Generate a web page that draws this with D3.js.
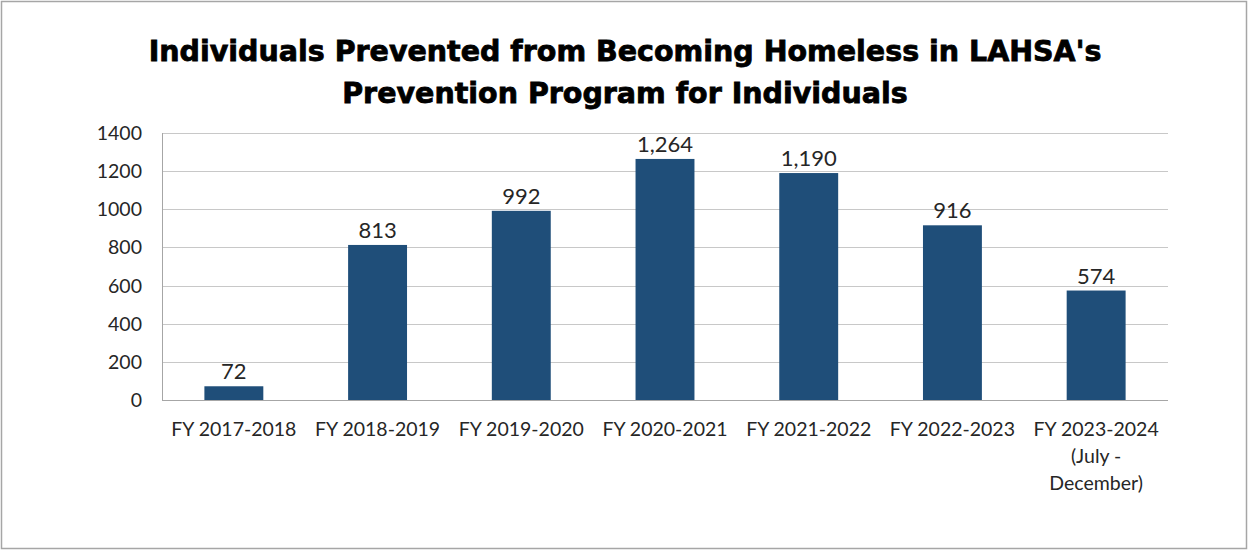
<!DOCTYPE html>
<html>
<head>
<meta charset="utf-8">
<script src="https://cdn.jsdelivr.net/npm/d3@7"></script>
<style>
  html, body { margin: 0; padding: 0; background: #fff; }
  #chart { width: 1248px; height: 550px; }
</style>
</head>
<body>
<div id="chart"></div>
<script>
// data
const categories = [
  ["FY 2017-2018"],
  ["FY 2018-2019"],
  ["FY 2019-2020"],
  ["FY 2020-2021"],
  ["FY 2021-2022"],
  ["FY 2022-2023"],
  ["FY 2023-2024", "(July -", "December)"]
];
const values = [72, 813, 992, 1264, 1190, 916, 574];
const yTicks = [0, 200, 400, 600, 800, 1000, 1200, 1400];
const titleLines = [
  "Individuals Prevented from Becoming Homeless in LAHSA's",
  "Prevention Program for Individuals"
];

const width = 1248, height = 550;
const margin = { top: 133, right: 80, bottom: 150, left: 162 };
const labelFont = "Lato, 'Open Sans', sans-serif";

const svg = d3.select("#chart")
  .append("svg")
  .attr("width", width)
  .attr("height", height);

// outer frame
svg.append("rect")
  .attr("x", 1.5).attr("y", 1.5)
  .attr("width", width - 3).attr("height", height - 3)
  .attr("fill", "#fff")
  .attr("stroke", "#a6a6a6")
  .attr("stroke-width", 1.5);

// title (heavy face, a little stroke to get the Arial Black weight)
svg.append("text")
  .attr("text-anchor", "middle")
  .style("font-family", "'Arial Black', 'DejaVu Sans', sans-serif")
  .style("font-weight", "900")
  .style("font-size", "28.5px")
  .style("fill", "#000")
  .style("stroke", "#000")
  .style("stroke-width", "0.8px")
  .selectAll("tspan")
  .data(titleLines)
  .enter()
  .append("tspan")
  .attr("x", 625)
  .attr("y", (d, i) => 61 + i * 42)
  .text((d) => d);

const x = d3.scaleBand()
  .domain(d3.range(categories.length))
  .range([margin.left, width - margin.right])
  .paddingInner(0.59)
  .paddingOuter(0.295);

const y = d3.scaleLinear()
  .domain([0, 1400])
  .range([height - margin.bottom, margin.top]);

// gridlines
svg.append("g")
  .selectAll("line")
  .data(yTicks.filter((t) => t > 0))
  .enter()
  .append("line")
  .attr("x1", margin.left)
  .attr("x2", width - margin.right)
  .attr("y1", (d) => Math.round(y(d)) + 0.5)
  .attr("y2", (d) => Math.round(y(d)) + 0.5)
  .attr("stroke", "#c8c8c8")
  .attr("stroke-width", 1);

// y axis labels
svg.append("g")
  .selectAll("text")
  .data(yTicks)
  .enter()
  .append("text")
  .attr("x", margin.left - 20)
  .attr("y", (d) => y(d))
  .attr("dy", "0.36em")
  .attr("text-anchor", "end")
  .style("font-family", labelFont)
  .style("font-size", "19.5px")
  .style("fill", "#262626")
  .text((d) => d);

// bars
svg.append("g")
  .selectAll("rect")
  .data(values)
  .enter()
  .append("rect")
  .attr("x", (d, i) => x(i))
  .attr("width", x.bandwidth())
  .attr("y", (d) => y(d))
  .attr("height", (d) => y(0) - y(d))
  .attr("fill", "#1f4e79");

// value labels
const fmt = d3.format(",");
svg.append("g")
  .selectAll("text")
  .data(values)
  .enter()
  .append("text")
  .attr("x", (d, i) => x(i) + x.bandwidth() / 2)
  .attr("y", (d) => y(d) - 7)
  .attr("text-anchor", "middle")
  .style("font-family", labelFont)
  .style("font-size", "22px")
  .style("fill", "#262626")
  .text((d) => fmt(d));

// axis lines
svg.append("line")
  .attr("x1", margin.left + 0.5).attr("x2", margin.left + 0.5)
  .attr("y1", margin.top).attr("y2", y(0))
  .attr("stroke", "#a6a6a6");
svg.append("line")
  .attr("x1", margin.left).attr("x2", width - margin.right)
  .attr("y1", Math.round(y(0)) + 0.5).attr("y2", Math.round(y(0)) + 0.5)
  .attr("stroke", "#a6a6a6");

// category labels
const cat = svg.append("g")
  .selectAll("text")
  .data(categories)
  .enter()
  .append("text")
  .attr("text-anchor", "middle")
  .style("font-family", labelFont)
  .style("font-size", "19.5px")
  .style("fill", "#262626");

cat.selectAll("tspan")
  .data((d, i) => d.map((line) => ({ line, i })))
  .enter()
  .append("tspan")
  .attr("x", (d) => x(d.i) + x.bandwidth() / 2)
  .attr("y", (d, j) => y(0) + 36 + j * 27)
  .text((d) => d.line);
</script>
</body>
</html>
